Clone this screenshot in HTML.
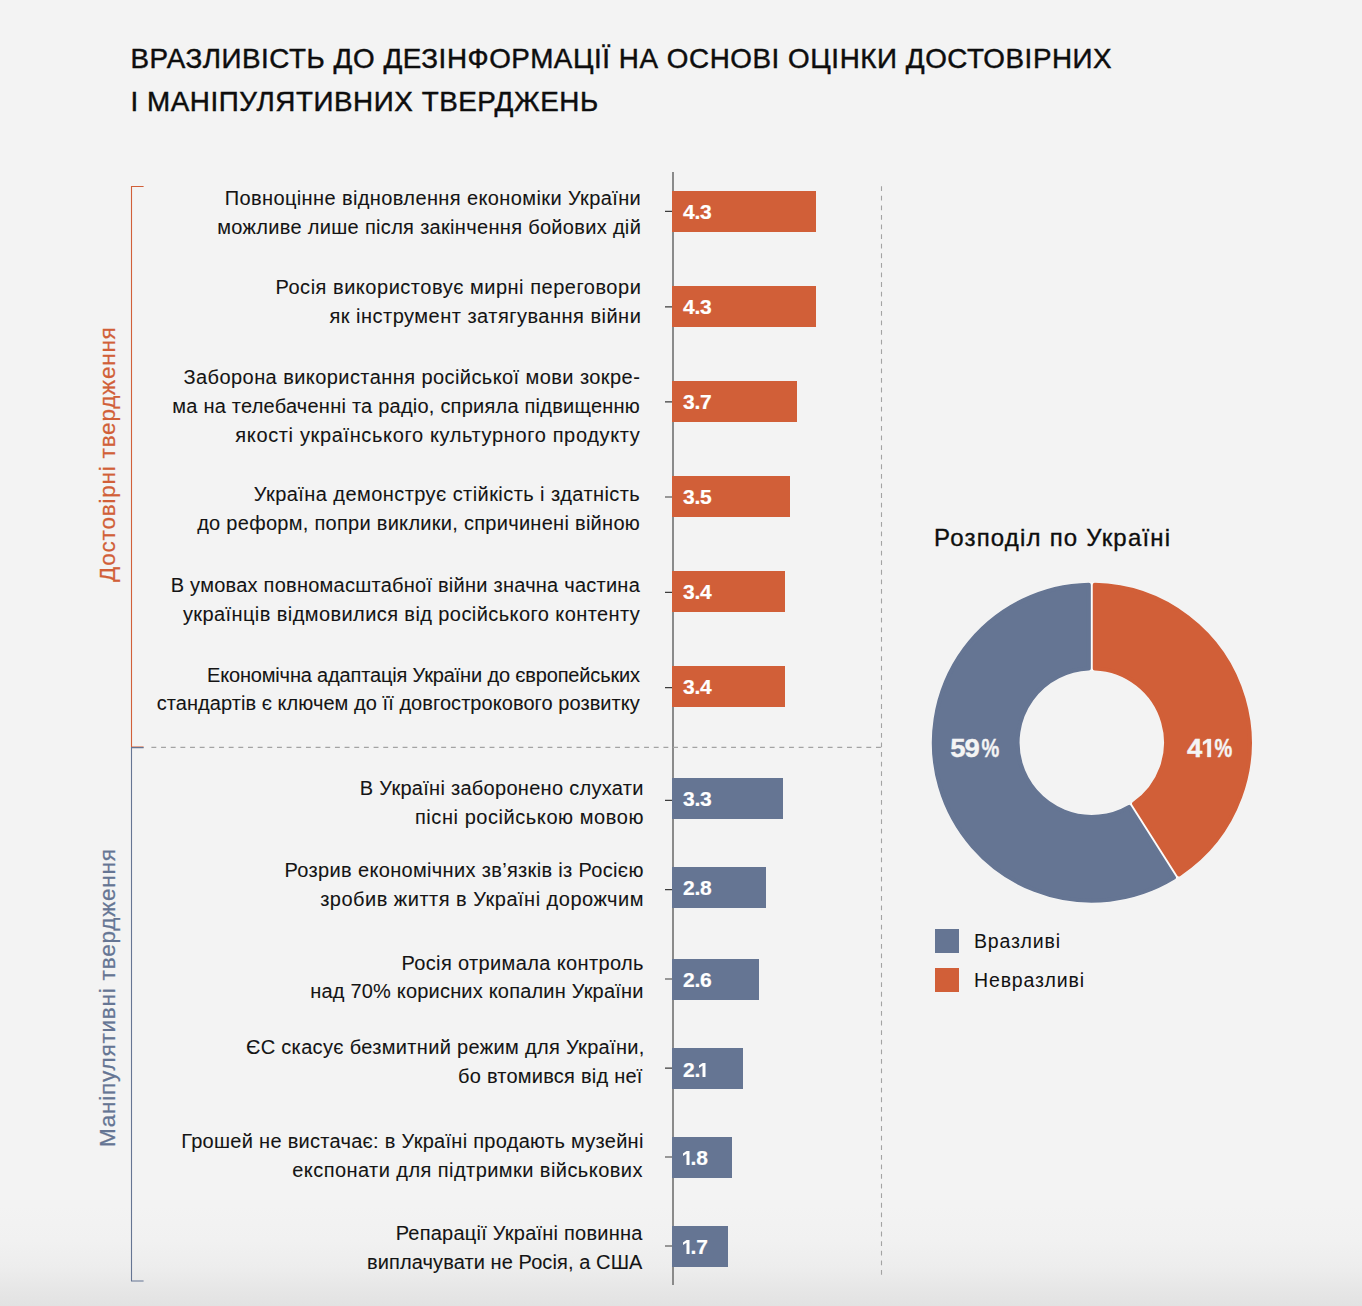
<!DOCTYPE html>
<html><head><meta charset="utf-8">
<style>
*{margin:0;padding:0;box-sizing:border-box}
html,body{width:1362px;height:1306px;overflow:hidden;background:#f3f3f3}
body{position:relative;font-family:"Liberation Sans",sans-serif;color:#111}
.abs{position:absolute}
.shade{position:absolute;left:0;top:1205px;width:1362px;height:101px;background:linear-gradient(#f3f3f3 0%,#f1f1f1 35%,#ededed 62%,#e7e7e7 82%,#e2e2e2 100%)}
.title{position:absolute;left:130.5px;font-size:27.8px;letter-spacing:0.55px;white-space:nowrap;color:#0d0d0d;-webkit-text-stroke:0.45px #0d0d0d;line-height:30px}
.ln{position:absolute;font-size:20px;white-space:nowrap;line-height:29px;color:#141414;-webkit-text-stroke:0.08px #141414}
.bar{position:absolute;left:672px;height:41px}
.o{background:#d15f38}
.b{background:#657593}
.val{position:absolute;left:683px;font-size:21px;font-weight:bold;color:#fff;line-height:41px;letter-spacing:-0.2px;-webkit-text-stroke:0.2px #fff}
.g1{display:inline-block;vertical-align:baseline;overflow:visible}
.tick{position:absolute;left:665px;width:8px;height:2px;background:#555}
.vlab{position:absolute;font-size:22.5px;letter-spacing:0.78px;white-space:nowrap;transform-origin:0 0;transform:rotate(-90deg);line-height:24px;-webkit-text-stroke:0.25px currentColor}
</style></head><body>
<div class="shade"></div>

<div class="title" style="top:44.1px">ВРАЗЛИВІСТЬ ДО ДЕЗІНФОРМАЦІЇ НА ОСНОВІ ОЦІНКИ ДОСТОВІРНИХ</div>
<div class="title" style="top:87.0px">І МАНІПУЛЯТИВНИХ ТВЕРДЖЕНЬ</div>

<!-- axis -->
<div class="abs" style="left:672px;top:172px;width:2px;height:1113px;background:#8a8a8a"></div>

<!-- right dashed line -->
<svg class="abs" style="left:0;top:0" width="1362" height="1306">
  <line x1="881.5" y1="186.2" x2="881.5" y2="1275.2" stroke="#a3a3a3" stroke-width="1.1" stroke-dasharray="4.8 4.791"/>
  <line x1="151.4" y1="747.3" x2="882" y2="747.3" stroke="#a3a3a3" stroke-width="1.2" stroke-dasharray="4.9 4.761"/>
  <!-- brackets -->
  <path d="M143.6 186.5 H131.5 V747 H143.6" stroke="#d15f38" stroke-width="1.1" fill="none"/>
  <path d="M143.6 747.6 H131.5 V1281 H143.6" stroke="#657593" stroke-width="1.1" fill="none"/>
</svg>

<!-- vertical labels -->
<div class="vlab" style="left:95.7px;top:582px;color:#d15f38">Достовірні твердження</div>
<div class="vlab" style="left:95.7px;top:1147px;color:#657593">Маніпулятивні твердження</div>

<!-- labels -->
<div class="ln" id="l0_0" style="top:184.07px;right:721.20px;letter-spacing:0.388px;margin-right:-0.388px">Повноцінне відновлення економіки України</div>
<div class="ln" id="l0_1" style="top:212.97px;right:721.20px;letter-spacing:0.315px;margin-right:-0.315px">можливе лише після закінчення бойових дій</div>
<div class="ln" id="l1_0" style="top:272.87px;right:721.20px;letter-spacing:0.518px;margin-right:-0.518px">Росія використовує мирні переговори</div>
<div class="ln" id="l1_1" style="top:301.87px;right:721.20px;letter-spacing:0.487px;margin-right:-0.487px">як інструмент затягування війни</div>
<div class="ln" id="l2_0" style="top:362.97px;right:722.20px;letter-spacing:0.426px;margin-right:-0.426px">Заборона використання російської мови зокре-</div>
<div class="ln" id="l2_1" style="top:391.97px;right:722.20px;letter-spacing:0.230px;margin-right:-0.230px">ма на телебаченні та радіо, сприяла підвищенню</div>
<div class="ln" id="l2_2" style="top:420.87px;right:722.20px;letter-spacing:0.642px;margin-right:-0.642px">якості українського культурного продукту</div>
<div class="ln" id="l3_0" style="top:479.97px;right:722.20px;letter-spacing:0.437px;margin-right:-0.437px">Україна демонструє стійкість і здатність</div>
<div class="ln" id="l3_1" style="top:508.87px;right:722.20px;letter-spacing:0.282px;margin-right:-0.282px">до реформ, попри виклики, спричинені війною</div>
<div class="ln" id="l4_0" style="top:570.87px;right:722.20px;letter-spacing:0.247px;margin-right:-0.247px">В умовах повномасштабної війни значна частина</div>
<div class="ln" id="l4_1" style="top:599.87px;right:722.20px;letter-spacing:0.417px;margin-right:-0.417px">українців відмовилися від російського контенту</div>
<div class="ln" id="l5_0" style="top:660.87px;right:722.20px;letter-spacing:-0.164px;margin-right:--0.164px">Економічна адаптація України до європейських</div>
<div class="ln" id="l5_1" style="top:688.87px;right:722.20px;letter-spacing:0.058px;margin-right:-0.058px">стандартів є ключем до її довгострокового розвитку</div>
<div class="ln" id="l6_0" style="top:774.07px;right:718.60px;letter-spacing:0.289px;margin-right:-0.289px">В Україні заборонено слухати</div>
<div class="ln" id="l6_1" style="top:802.77px;right:718.60px;letter-spacing:0.561px;margin-right:-0.561px">пісні російською мовою</div>
<div class="ln" id="l7_0" style="top:856.07px;right:718.60px;letter-spacing:0.334px;margin-right:-0.334px">Розрив економічних зв’язків із Росією</div>
<div class="ln" id="l7_1" style="top:884.77px;right:718.60px;letter-spacing:0.494px;margin-right:-0.494px">зробив життя в Україні дорожчим</div>
<div class="ln" id="l8_0" style="top:949.07px;right:718.60px;letter-spacing:0.365px;margin-right:-0.365px">Росія отримала контроль</div>
<div class="ln" id="l8_1" style="top:977.07px;right:718.60px;letter-spacing:0.190px;margin-right:-0.190px">над 70% корисних копалин України</div>
<div class="ln" id="l9_0" style="top:1032.87px;right:717.60px;letter-spacing:0.329px;margin-right:-0.329px">ЄС скасує безмитний режим для України,</div>
<div class="ln" id="l9_1" style="top:1061.87px;right:719.60px;letter-spacing:0.236px;margin-right:-0.236px">бо втомився від неї</div>
<div class="ln" id="l10_0" style="top:1127.07px;right:718.60px;letter-spacing:0.287px;margin-right:-0.287px">Грошей не вистачає: в Україні продають музейні</div>
<div class="ln" id="l10_1" style="top:1155.97px;right:719.60px;letter-spacing:0.443px;margin-right:-0.443px">експонати для підтримки військових</div>
<div class="ln" id="l11_0" style="top:1218.87px;right:719.60px;letter-spacing:0.232px;margin-right:-0.232px">Репарації Україні повинна</div>
<div class="ln" id="l11_1" style="top:1247.77px;right:719.60px;letter-spacing:0.093px;margin-right:-0.093px">виплачувати не Росія, а США</div>

<!-- bars -->
<div class="bar o" style="top:191px;width:144px"></div>
<div class="bar o" style="top:286px;width:144px"></div>
<div class="bar o" style="top:381px;width:125px"></div>
<div class="bar o" style="top:476px;width:118px"></div>
<div class="bar o" style="top:571px;width:113px"></div>
<div class="bar o" style="top:666px;width:113px"></div>
<div class="bar b" style="top:778px;width:111px"></div>
<div class="bar b" style="top:867px;width:94px"></div>
<div class="bar b" style="top:959px;width:87px"></div>
<div class="bar b" style="top:1048px;width:71px"></div>
<div class="bar b" style="top:1137px;width:60px"></div>
<div class="bar b" style="top:1226px;width:56px"></div>

<!-- ticks -->
<svg class="abs" style="left:0;top:0" width="1362" height="1306"><path d="M665 211.4H672 M665 306.8H672 M665 401.9H672 M665 497.0H672 M665 592.3H672 M665 687.6H672 M665 800.4H672 M665 889.6H672 M665 979.0H672 M665 1068.2H672 M665 1157.0H672 M665 1246.0H672" stroke="#3d3d3d" stroke-width="1.2" fill="none"/></svg>

<!-- values -->
<div class="val" style="top:191px">4.3</div>
<div class="val" style="top:286px">4.3</div>
<div class="val" style="top:381px">3.7</div>
<div class="val" style="top:476px">3.5</div>
<div class="val" style="top:571px">3.4</div>
<div class="val" style="top:666px">3.4</div>
<div class="val" style="top:778px">3.3</div>
<div class="val" style="top:867px">2.8</div>
<div class="val" style="top:959px">2.6</div>
<div class="val" style="top:1049px">2.<span style="margin-left:-1.4px"><svg class="g1" width="6.5" height="15" viewBox="0 0 6.5 15"><path d="M6.5 15V1H3.6L0 3.4V5.9L3.5 3.7V15Z" fill="#fff"/></svg></span></div>
<div class="val" style="top:1137px"><span style="margin-right:1px"><svg class="g1" width="6.5" height="15" viewBox="0 0 6.5 15"><path d="M6.5 15V1H3.6L0 3.4V5.9L3.5 3.7V15Z" fill="#fff"/></svg></span>.8</div>
<div class="val" style="top:1226px"><span style="margin-right:1px"><svg class="g1" width="6.5" height="15" viewBox="0 0 6.5 15"><path d="M6.5 15V1H3.6L0 3.4V5.9L3.5 3.7V15Z" fill="#fff"/></svg></span>.7</div>

<!-- donut -->
<div class="abs" style="left:934px;top:523px;font-size:24px;letter-spacing:1.2px;white-space:nowrap;line-height:30px;-webkit-text-stroke:0.35px #0d0d0d;color:#0d0d0d">Розподіл по Україні</div>
<svg class="abs" style="left:0;top:0" width="1362" height="1306">
  <circle cx="1091.8" cy="742.7" r="116.10" fill="none" stroke="#fcfcfc" stroke-width="88.20"/>
  <path d="M1094.75 584.73 A158.00 158.00 0 0 1 1178.94 874.50 L1134.02 803.72 A74.20 74.20 0 0 0 1094.75 668.56 Z" fill="#d15f38" stroke="#d15f38" stroke-width="4" stroke-linejoin="round"/>
  <path d="M1173.96 877.66 A158.00 158.00 0 1 1 1088.85 584.73 L1088.85 668.56 A74.20 74.20 0 1 0 1129.04 806.88 Z" fill="#657593" stroke="#657593" stroke-width="4" stroke-linejoin="round"/>
  <g font-family="Liberation Sans" font-weight="bold" font-size="25" fill="#f4f4f4" stroke="#f4f4f4" stroke-width="0.35">
  <text transform="translate(950.3 757) scale(1.1 1)">5</text><text transform="translate(964.6 757) scale(1.1 1)">9</text><text transform="translate(981.6 757) scale(0.8 1)">%</text>
  <text transform="translate(1187 757) scale(1.1 1)">4</text><path transform="translate(1203 757) scale(1.22)" d="M6.5 0V-14.7H3.6L0 -12.3V-9.8L3.5 -12V0Z" stroke-width="0.3"/><text transform="translate(1214.4 757) scale(0.8 1)">%</text>
</g>
</svg>

<!-- legend -->
<div class="abs" style="left:935px;top:929px;width:24px;height:24px;background:#657593"></div>
<div class="abs" style="left:935px;top:968px;width:24px;height:24px;background:#d15f38"></div>
<div class="abs" style="left:974px;top:927.6px;font-size:19.5px;letter-spacing:0.85px;line-height:26px;white-space:nowrap">Вразливі</div>
<div class="abs" style="left:974px;top:966.6px;font-size:19.5px;letter-spacing:0.85px;line-height:26px;white-space:nowrap">Невразливі</div>
</body></html>
